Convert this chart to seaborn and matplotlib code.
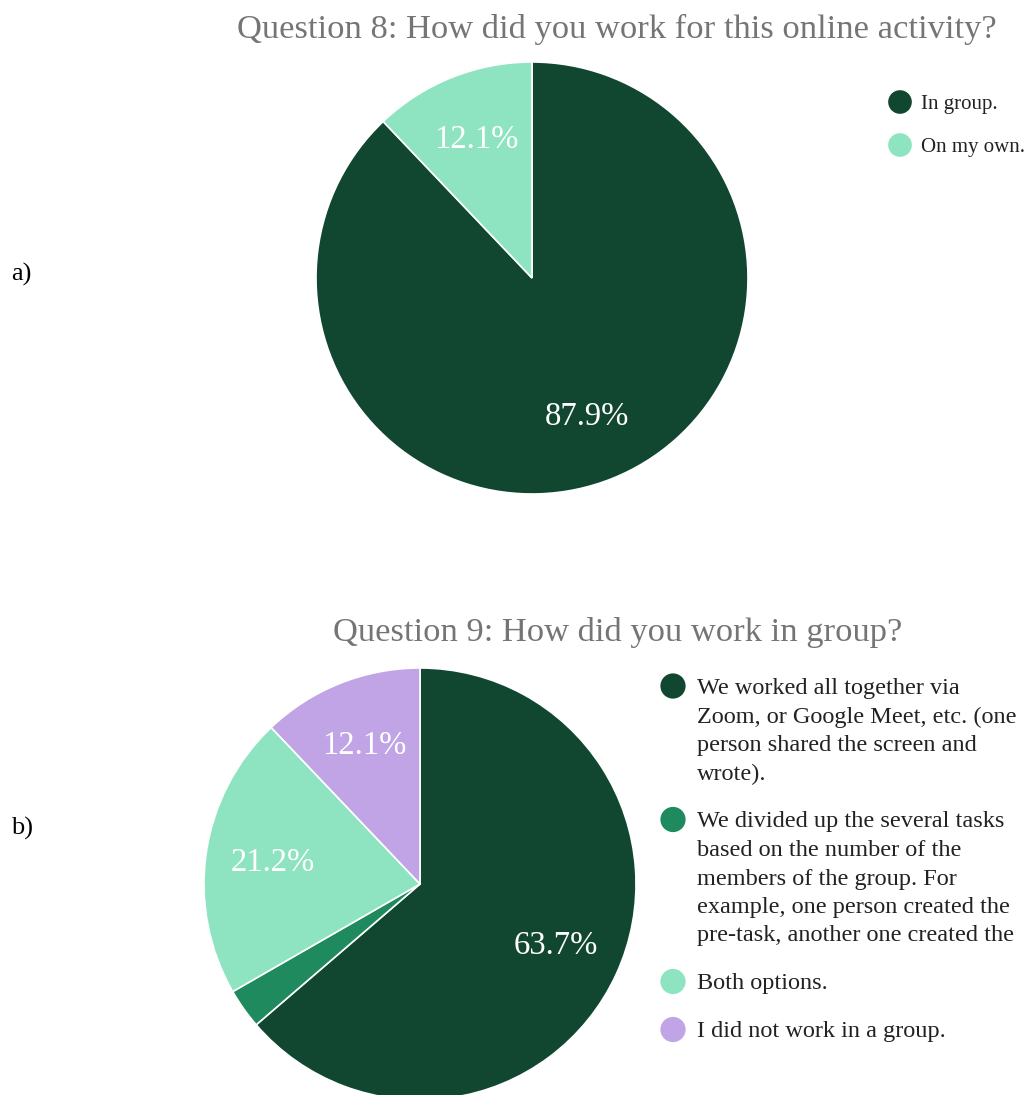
import matplotlib
matplotlib.use("Agg")
import matplotlib.pyplot as plt
import seaborn as sns

sns.set_theme(style="white")
plt.rcParams["font.family"] = ["Liberation Serif", "DejaVu Serif"]

# Question 8
q8_title = "Question 8: How did you work for this online activity?"
q8_labels = ["In group.", "On my own."]
q8_values = [87.9, 12.1]

# Question 9
q9_title = "Question 9: How did you work in group?"
q9_labels = [
    "We worked all together via\nZoom, or Google Meet, etc. (one\nperson shared the screen and\nwrote).",
    "We divided up the several tasks\nbased on the number of the\nmembers of the group. For\nexample, one person created the\npre-task, another one created the",
    "Both options.",
    "I did not work in a group.",
]
q9_values = [63.7, 3.0, 21.2, 12.1]

palette = sns.color_palette(["#114731", "#1f8a5e", "#8ee4c1", "#c0a4e5"])
q8_colors = [palette[0], palette[2]]
q9_colors = list(palette)

W, H = 1028, 1095
fig = plt.figure(figsize=(W / 100, H / 100), dpi=100)
fig.patch.set_facecolor("white")


def px_axes(x0, y0, x1, y1):
    return fig.add_axes([x0 / W, 1 - y1 / H, (x1 - x0) / W, (y1 - y0) / H])


def autopct(p):
    return f"{p:.1f}%" if p >= 5 else ""


def draw_pie(ax, values, colors):
    wedges, texts, autotexts = ax.pie(
        values, colors=colors, startangle=90, counterclock=False,
        autopct=autopct, pctdistance=0.69,
        wedgeprops=dict(edgecolor="white", linewidth=1.2),
        textprops=dict(color="white", fontsize=23.5),
    )
    ax.set_xlim(-1, 1)
    ax.set_ylim(-1, 1)
    ax.set_aspect("equal")
    ax.axis("off")
    return autotexts


ax_a = px_axes(316, 62, 748, 494)
draw_pie(ax_a, q8_values, q8_colors)

ax_b = px_axes(204, 668, 636, 1100)
draw_pie(ax_b, q9_values, q9_colors)

# Overlay in pixel coordinates for titles, panel letters and legends
ov = fig.add_axes([0, 0, 1, 1], facecolor="none")
ov.set_xlim(0, W)
ov.set_ylim(H, 0)
ov.axis("off")

title_color = "#757575"
ov.text(617, 29, q8_title, ha="center", va="center", fontsize=24.8, color=title_color)
ov.text(618, 632, q9_title, ha="center", va="center", fontsize=24.8, color=title_color)

ov.text(11, 274, "a)", ha="left", va="center", fontsize=19, color="black")
ov.text(11, 828, "b)", ha="left", va="center", fontsize=19, color="black")

# Legend for question 8
for lab, col, y in zip(q8_labels, q8_colors, [102, 145]):
    ov.scatter([900], [y], s=290, color=col, edgecolor="none")
    ov.text(921, y, lab, ha="left", va="center_baseline", fontsize=15, color="#222222")

# Legend for question 9: one marker per entry, wrapped lines stacked below it
line_h = 28.5
gap = 19.5
y = 686
for lab, col in zip(q9_labels, q9_colors):
    ov.scatter([673], [y], s=330, color=col, edgecolor="none")
    lines = lab.split("\n")
    for i, line in enumerate(lines):
        ov.text(697, y + i * line_h, line, ha="left", va="center_baseline",
                fontsize=17.5, color="#222222")
    y += len(lines) * line_h + gap

fig.savefig("out.png", dpi=100, facecolor="white")
